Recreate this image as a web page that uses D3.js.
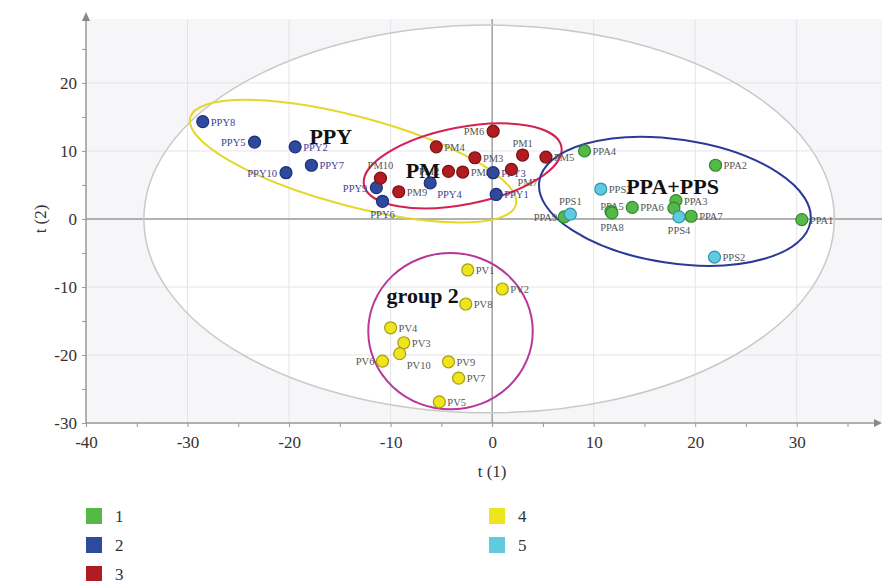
<!DOCTYPE HTML>
<html>
<head>
<meta charset="utf-8">
<title>PCA scores t(1) / t(2)</title>
<style>
  body { margin: 0; background: #fff; }
  text { font-family: "Liberation Serif", "DejaVu Serif", serif; }
</style>
</head>
<body>
<div id="chart"></div>
<script src="https://cdnjs.cloudflare.com/ajax/libs/d3/7.8.5/d3.min.js"></script>
<script>
// score values: t(1), t(2)
var ppaNames = ["PPA1","PPA2","PPA3","PPA4","PPA5","PPA6","PPA7","PPA8","PPA9","PPA10"];
var ppaT1 = [30.5, 22.0, 18.1, 9.1, 11.7, 13.8, 19.6, 11.8, 7.1, 17.9];
var ppaT2 = [-0.1, 7.9, 2.7, 10.0, 1.1, 1.7, 0.4, 0.9, 0.3, 1.6];

var ppyNames = ["PPY1","PPY2","PPY3","PPY4","PPY5","PPY6","PPY7","PPY8","PPY9","PPY10"];
var ppyT1 = [0.4, -19.4, 0.1, -6.1, -23.4, -10.8, -17.8, -28.5, -11.4, -20.3];
var ppyT2 = [3.6, 10.6, 6.8, 5.3, 11.3, 2.6, 7.9, 14.3, 4.6, 6.8];

var pmNames = ["PM1","PM2","PM3","PM4","PM5","PM6","PM7","PM8","PM9","PM10"];
var pmT1 = [3.0, -4.3, -1.7, -5.5, 5.3, 0.1, 1.9, -2.9, -9.2, -11.0];
var pmT2 = [9.4, 7.0, 9.0, 10.6, 9.1, 12.9, 7.3, 6.9, 4.0, 6.0];

var pvNames = ["PV1","PV2","PV3","PV4","PV5","PV6","PV7","PV8","PV9","PV10"];
var pvT1 = [-2.4, 1.0, -8.7, -10.0, -5.2, -10.8, -3.3, -2.6, -4.3, -9.1];
var pvT2 = [-7.5, -10.3, -18.2, -16.0, -26.9, -20.9, -23.4, -12.5, -21.0, -19.8];

var ppsNames = ["PPS1","PPS2","PPS3","PPS4"];
var ppsT1 = [7.7, 21.9, 10.7, 18.4];
var ppsT2 = [0.7, -5.6, 4.4, 0.3];

var xTicks = [-40, -30, -20, -10, 0, 10, 20, 30];
var yTicks = [-30, -20, -10, 0, 10, 20];
var legendKeys = ["1", "2", "3", "4", "5"];

// group ellipses: centre in scores, radii in t(1) units, tilt in degrees
var groupNames = ["PPY", "PM", "PPA+PPS", "group 2"];
var groupCx = [-13.7, -2.9, 18.0, -4.1];
var groupCy = [8.5, 7.8, 2.6, -16.5];
var groupRx = [16.6, 9.9, 13.5, 8.1];
var groupRy = [4.4, 3.8, 6.1, 7.7];
var groupTilt = [15, -11, 8.4, 0];

var width = 882, height = 581;
var svg = d3.select("#chart").append("svg")
  .attr("width", width).attr("height", height);

var x = d3.scaleLinear().domain([-40, 38.2]).range([86, 880]);
var y = d3.scaleLinear().domain([-30, 29.4]).range([423, 19]);
var pxPerUnit = x(1) - x(0);

var fill = {1: "#55b947", 2: "#2f4a9c", 3: "#b01c21", 4: "#eee51f", 5: "#62cadf"};
var stroke = {1: "#2f8a2c", 2: "#1d2f78", 3: "#7a1114", 4: "#a89d12", 5: "#2e98ad"};

// plot background
svg.append("rect")
  .attr("x", x(-40)).attr("y", y(29.4))
  .attr("width", width - x(-40)).attr("height", y(-30) - y(29.4))
  .attr("fill", "#f6f6f8");

// Hotelling ellipse
svg.append("ellipse")
  .attr("cx", x(-0.3)).attr("cy", y(0))
  .attr("rx", x(34) - x(0)).attr("ry", y(0) - y(28.5))
  .attr("fill", "#fff");

// grid
svg.append("g").selectAll("line").data(xTicks.filter(function(d){ return d > -40 && d != 0; }))
  .enter().append("line")
  .attr("x1", function(d){ return x(d); }).attr("x2", function(d){ return x(d); })
  .attr("y1", y(29.4)).attr("y2", y(-30))
  .attr("stroke", "#e4e4e8");
svg.append("g").selectAll("line").data(yTicks.filter(function(d){ return d > -30 && d != 0; }))
  .enter().append("line")
  .attr("x1", x(-40)).attr("x2", width)
  .attr("y1", function(d){ return y(d); }).attr("y2", function(d){ return y(d); })
  .attr("stroke", "#e4e4e8");

// zero lines
svg.append("line").attr("x1", x(0)).attr("x2", x(0)).attr("y1", y(29.4)).attr("y2", y(-30))
  .attr("stroke", "#999").attr("stroke-width", 1.4);
svg.append("line").attr("x1", x(-40)).attr("x2", width).attr("y1", y(0)).attr("y2", y(0))
  .attr("stroke", "#999").attr("stroke-width", 1.4);

svg.append("ellipse")
  .attr("cx", x(-0.3)).attr("cy", y(0))
  .attr("rx", x(34) - x(0)).attr("ry", y(0) - y(28.5))
  .attr("fill", "none").attr("stroke", "#c9c9c9").attr("stroke-width", 1.5);

// axes
var xAxis = d3.axisBottom(x).tickValues(d3.range(-40, 40, 5)).tickSize(4).tickSizeOuter(0)
  .tickFormat(function(d){ return d % 10 == 0 ? d : ""; });
var yAxis = d3.axisLeft(y).tickValues(d3.range(-30, 30, 5)).tickSize(4).tickSizeOuter(0)
  .tickFormat(function(d){ return d % 10 == 0 ? d : ""; });

var gx = svg.append("g").attr("transform", "translate(0," + y(-30) + ")").call(xAxis);
var gy = svg.append("g").attr("transform", "translate(" + x(-40) + ",0)").call(yAxis);
[gx, gy].forEach(function(g){
  g.select(".domain").remove();
  g.selectAll(".tick line").attr("stroke", "#999");
  g.selectAll(".tick text").attr("fill", "#333").style("font-size", "17px")
    .style("font-family", "'Liberation Serif', serif");
});
gx.selectAll(".tick text").attr("dy", "1.05em");
gy.selectAll(".tick text").attr("x", -9);

// axis lines with arrows
svg.append("line").attr("x1", x(-40)).attr("x2", 876).attr("y1", y(-30)).attr("y2", y(-30))
  .attr("stroke", "#999").attr("stroke-width", 1.5);
svg.append("path").attr("d", "M882," + y(-30) + "l-8,-4v8z").attr("fill", "#888");
svg.append("line").attr("x1", x(-40)).attr("x2", x(-40)).attr("y1", y(-30)).attr("y2", 18)
  .attr("stroke", "#999").attr("stroke-width", 1.5);
svg.append("path").attr("d", "M" + x(-40) + ",12l-4,9h8z").attr("fill", "#888");

svg.append("text").attr("x", x(0)).attr("y", 477).attr("text-anchor", "middle")
  .style("font-size", "17px").attr("fill", "#333").text("t (1)");
svg.append("text").attr("transform", "translate(46," + y(0) + ") rotate(-90)")
  .attr("text-anchor", "middle").style("font-size", "17px").attr("fill", "#333").text("t (2)");

// group ellipses
var groupColor = ["#e3d82a", "#d6204f", "#2b3a98", "#b8379c"];
svg.append("g").selectAll("ellipse").data(groupNames).enter().append("ellipse")
  .attr("transform", function(d, i){
    return "translate(" + x(groupCx[i]) + "," + y(groupCy[i]) + ") rotate(" + groupTilt[i] + ")";
  })
  .attr("rx", function(d, i){ return groupRx[i] * pxPerUnit; })
  .attr("ry", function(d, i){ return groupRy[i] * pxPerUnit; })
  .attr("fill", "none")
  .attr("stroke", function(d, i){ return groupColor[i]; })
  .attr("stroke-width", 2);

// label placement: [dx, dy, anchor]
var place = {
  PPY5: [-9, 4, "end"], PPY10: [-9, 4, "end"], PPY9: [-9, 4, "end"], PPY6: [0, 17, "middle"],
  PPY4: [7, 15, "start"], PM6: [-9, 4, "end"], PM1: [0, -8, "middle"], PM10: [0, -9, "middle"],
  PM2: [-9, 4, "end"], PM7: [6, 17, "start"], PPA5: [1, -1, "middle"], PPA8: [0, 18, "middle"],
  PPA9: [-7, 4, "end"], PPA10: null, PPS1: [0, -9, "middle"], PPS4: [0, 17, "middle"],
  PV6: [-8, 4, "end"], PV10: [7, 15, "start"]
};

function cloud(names, t1, t2, key, labelColor) {
  var pts = names.map(function(n, i){ return {name: n, t1: t1[i], t2: t2[i]}; });
  var g = svg.append("g");
  g.selectAll("text").data(pts.filter(function(d){ return place[d.name] !== null; }))
    .enter().append("text")
    .attr("x", function(d){ var p = place[d.name] || [8, 4]; return x(d.t1) + p[0]; })
    .attr("y", function(d){ var p = place[d.name] || [8, 4]; return y(d.t2) + p[1]; })
    .attr("text-anchor", function(d){ var p = place[d.name]; return p ? p[2] : "start"; })
    .style("font-size", "10.5px").attr("fill", labelColor)
    .text(function(d){ return d.name; });
  return pts;
}
function dots(pts, key) {
  svg.append("g").selectAll("circle").data(pts).enter().append("circle")
    .attr("cx", function(d){ return x(d.t1); })
    .attr("cy", function(d){ return y(d.t2); })
    .attr("r", 6)
    .attr("fill", fill[key]).attr("stroke", stroke[key]).attr("stroke-width", 1.2);
}

var ppy = cloud(ppyNames, ppyT1, ppyT2, 2, "#3a3f95");
var pm = cloud(pmNames, pmT1, pmT2, 3, "#555");
var ppa = cloud(ppaNames, ppaT1, ppaT2, 1, "#555");
var pps = cloud(ppsNames, ppsT1, ppsT2, 5, "#555");
var pv = cloud(pvNames, pvT1, pvT2, 4, "#555");
dots(ppy, 2); dots(pm, 3); dots(ppa, 1); dots(pv, 4); dots(pps, 5);

// group titles
var titlePos = [[-18.0, 11.0], [-8.5, 6.0], [13.2, 3.7], [-10.4, -12.3]];
svg.append("g").selectAll("text").data(groupNames).enter().append("text")
  .attr("x", function(d, i){ return x(titlePos[i][0]); })
  .attr("y", function(d, i){ return y(titlePos[i][1]); })
  .style("font-size", "22px").style("font-weight", "bold").attr("fill", "#111")
  .text(function(d){ return d; });

// legend
var legend = svg.append("g").selectAll("g").data(legendKeys).enter().append("g")
  .attr("transform", function(d, i){
    return "translate(" + (i < 3 ? 86 : 489) + "," + (508 + (i % 3) * 29) + ")";
  });
legend.append("rect").attr("width", 16).attr("height", 16)
  .attr("fill", function(d){ return fill[d]; });
legend.append("text").attr("x", 29).attr("y", 14).style("font-size", "17px").attr("fill", "#333")
  .text(function(d){ return d; });
</script>
</body>
</html>
